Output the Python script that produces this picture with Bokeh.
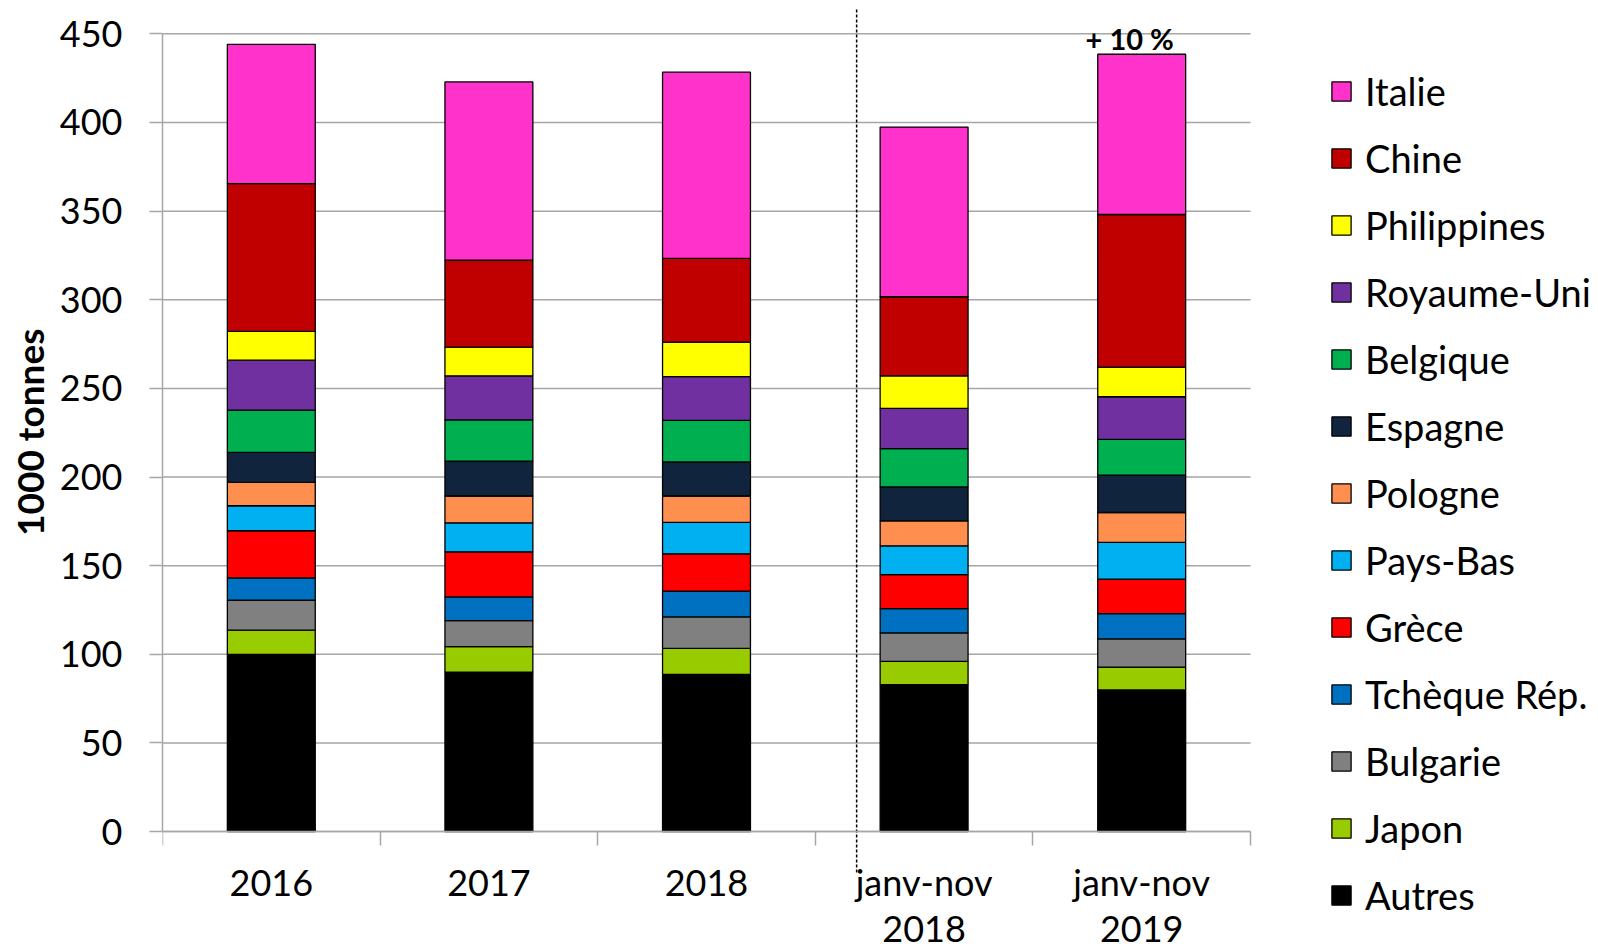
from bokeh.plotting import figure
from bokeh.models import FixedTicker, LegendItem, Legend, Range1d, ColumnDataSource, Title
from bokeh.core.properties import value
from bokeh.embed import file_html
from bokeh.resources import INLINE

categories = ["2016", "2017", "2018", "janv-nov\n2018", "janv-nov\n2019"]
countries = ["Autres", "Japon", "Bulgarie", "Tchèque Rép.", "Grèce", "Pays-Bas", "Pologne",
             "Espagne", "Belgique", "Royaume-Uni", "Philippines", "Chine", "Italie"]
autres = [100.0, 90.0, 88.7, 82.9, 79.9]
japon = [13.6, 14.3, 14.7, 13.1, 12.9]
bulgarie = [16.9, 14.7, 17.7, 16.1, 15.9]
tcheque = [12.6, 13.4, 14.5, 13.7, 14.3]
grece = [26.6, 25.4, 21.1, 19.2, 19.4]
pays_bas = [14.1, 16.4, 17.7, 16.2, 20.7]
pologne = [13.2, 15.1, 14.9, 14.1, 16.9]
espagne = [16.9, 19.7, 19.2, 19.1, 21.1]
belgique = [23.8, 23.2, 23.5, 21.6, 20.2]
royaume_uni = [28.2, 24.9, 24.6, 22.7, 24.0]
philippines = [16.3, 16.2, 19.5, 18.4, 16.7]
chine = [83.3, 49.1, 47.2, 44.6, 86.1]
italie = [78.6, 100.5, 105.1, 95.7, 90.4]
y_ticks = [0, 50, 100, 150, 200, 250, 300, 350, 400, 450]

series = [autres, japon, bulgarie, tcheque, grece, pays_bas, pologne,
          espagne, belgique, royaume_uni, philippines, chine, italie]
colors = ["#000000", "#99CC00", "#808080", "#0070C0", "#FF0000", "#00B0F0", "#FF8F4F",
          "#10243E", "#00B050", "#7030A0", "#FFFF00", "#C00000", "#FF33CC"]

FONT = "Lato"
GRID = "#a6a6a6"

n_cat = len(categories)
x = [i + 0.5 for i in range(n_cat)]
data = {"x": x}
for name, vals in zip(countries, series):
    data[name] = vals
source = ColumnDataSource(data)
totals = [sum(v) for v in zip(*series)]

# The frame covers the canvas right of the y axis (bars use 1088 px of it,
# the legend sits in the rest); it also extends below zero so the legend fits.
FRAME_W = 1430
BAR_AREA_W = 1088
Y_TOP = 464.3
Y_BOTTOM = -68.2
p = figure(frame_width=FRAME_W, frame_height=944,
           x_range=Range1d(0, n_cat * FRAME_W / BAR_AREA_W),
           y_range=Range1d(Y_BOTTOM, Y_TOP), output_backend="svg", toolbar_location=None,
           min_border_left=162, min_border_right=0, min_border_top=8, min_border_bottom=0)
p.outline_line_color = None
p.background_fill_color = "white"
p.xgrid.visible = False
p.ygrid.visible = False

# horizontal gridlines limited to the bar area
p.segment(x0=[0] * len(y_ticks), x1=[n_cat] * len(y_ticks), y0=y_ticks, y1=y_ticks,
          line_color=GRID, line_width=1.5)

renderers = p.vbar_stack(countries, x="x", width=0.404, source=source,
                         fill_color=colors, line_color="black", line_width=1.3)

# separator between full years and partial years
SEP_X = 3.19
p.segment(x0=[SEP_X], x1=[SEP_X], y0=[-23.1], y1=[Y_TOP], line_color="black",
          line_dash="3 2", line_width=1.5)

# y axis
yax = p.yaxis[0]
yax.ticker = FixedTicker(ticks=y_ticks)
yax.bounds = (0, 450)
yax.axis_line_color = GRID
yax.axis_line_width = 1.5
yax.major_tick_line_color = GRID
yax.major_tick_line_width = 1.5
yax.major_tick_out = 13
yax.major_tick_in = 0
yax.minor_tick_line_color = None
yax.major_label_text_font = FONT
yax.major_label_text_font_size = "36px"
yax.major_label_text_color = "black"
yax.major_label_standoff = 27

p.add_layout(Title(text="1000 tonnes", align="right", offset=320, standoff=9,
                   text_font=FONT, text_font_style="bold", text_font_size="37px",
                   text_color="black"), "left")

# x axis, drawn at y = 0 inside the frame
xax = p.xaxis[0]
xax.fixed_location = 0
xax.bounds = (0, n_cat)
xax.ticker = FixedTicker(ticks=x, minor_ticks=list(range(0, n_cat + 1)))
xax.major_label_overrides = {xi: c for xi, c in zip(x, categories)}
xax.axis_line_color = GRID
xax.axis_line_width = 1.5
xax.major_tick_line_color = None
xax.major_tick_out = 0
xax.major_tick_in = 0
xax.minor_tick_line_color = GRID
xax.minor_tick_line_width = 1.5
xax.minor_tick_out = 14
xax.minor_tick_in = 0
xax.major_label_text_font = FONT
xax.major_label_text_font_size = "36px"
xax.major_label_text_color = "black"
xax.major_label_standoff = 14
xax.major_label_text_line_height = 1.06

# growth label
growth = (totals[-1] / totals[-2] - 1) * 100
p.text(x=[x[-1]], y=[totals[-1]], text=[f"+ {growth:.0f} %"], text_align="center",
       text_baseline="alphabetic", x_offset=-12, y_offset=-16,
       text_font=value(FONT), text_font_style="bold", text_font_size="29px", text_color="black")

items = [LegendItem(label=c, renderers=[r]) for c, r in reversed(list(zip(countries, renderers)))]
legend = Legend(items=items, location=(1167, 34), orientation="vertical",
                glyph_width=24, glyph_height=24, label_standoff=12, spacing=21, label_height=45,
                padding=0, margin=0, border_line_color=None, background_fill_alpha=0,
                label_text_font=FONT, label_text_font_size="38px", label_text_color="black")
p.add_layout(legend)

open("out.html", "w").write(file_html(p, INLINE))
